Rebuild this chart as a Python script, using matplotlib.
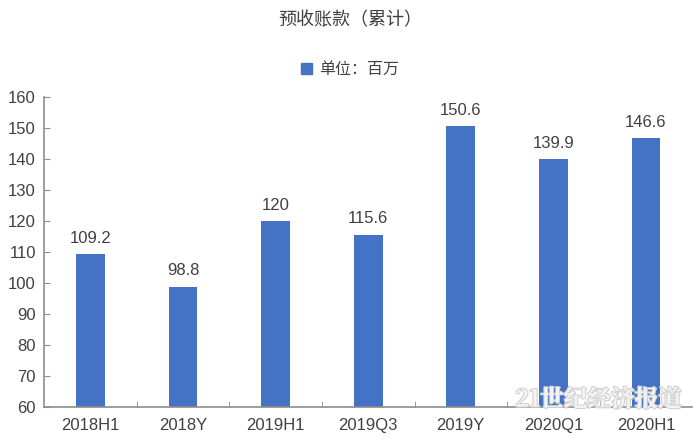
import matplotlib
matplotlib.use('Agg')
import matplotlib.pyplot as plt
from matplotlib.patches import Patch
import matplotlib.patheffects as pe

plt.rcParams['font.family'] = ['Liberation Sans', 'Noto Sans CJK SC', 'DejaVu Sans']

categories = ['2018H1', '2018Y', '2019H1', '2019Q3', '2019Y', '2020Q1', '2020H1']
values = [109.2, 98.8, 120, 115.6, 150.6, 139.9, 146.6]
labels = ['109.2', '98.8', '120', '115.6', '150.6', '139.9', '146.6']

bar_color = '#4472C4'
text_color = '#404040'
axis_color = '#8c8c8c'

fig = plt.figure(figsize=(7, 4.42), dpi=100)
ax = fig.add_axes([0.063, 0.079, 0.926, 0.702])

x = range(len(categories))
bars = ax.bar(x, values, width=0.31, color=bar_color, zorder=2)

# etiquetas de valores
for b, lab in zip(bars, labels):
    ax.annotate(lab, (b.get_x() + b.get_width() / 2, b.get_height()),
                xytext=(0, 6), textcoords='offset points',
                ha='center', va='bottom', fontsize=12, color=text_color)

ax.set_ylim(60, 160)
ax.set_yticks(range(60, 161, 10))
ax.set_xlim(-0.5, len(categories) - 0.5)
ax.set_xticks(list(x))
ax.set_xticklabels(categories)
ax.set_xticks([i + 0.5 for i in range(len(categories) - 1)], minor=True)

ax.tick_params(axis='y', direction='in', length=4, color=axis_color,
               labelsize=12, labelcolor=text_color, pad=6)
ax.tick_params(axis='x', which='major', length=0, labelsize=12,
               labelcolor=text_color, pad=8)
ax.tick_params(axis='x', which='minor', direction='in', length=4, color=axis_color)

for s in ['top', 'right']:
    ax.spines[s].set_visible(False)
for s in ['left', 'bottom']:
    ax.spines[s].set_color(axis_color)
    ax.spines[s].set_linewidth(1.2)

fig.text(0.5, 0.955, '预收账款（累计）', ha='center', va='center',
         fontsize=13, color=text_color,
         family=['Noto Sans CJK SC', 'DejaVu Sans'])
fig.legend(handles=[Patch(color=bar_color, label='单位：百万')],
           loc='center', bbox_to_anchor=(0.5, 0.842), frameon=False,
           handlelength=0.7, handleheight=0.7, handletextpad=0.4,
           labelcolor=text_color,
           prop={'family': ['Noto Sans CJK SC', 'DejaVu Sans'], 'size': 11.5})

# marca de agua
fig.text(0.855, 0.095, '21世纪经济报道', ha='center', va='center',
         fontsize=17, fontweight='bold', color='#f4f4f4',
         family=['Noto Serif CJK SC', 'Noto Sans CJK SC', 'DejaVu Sans'],
         path_effects=[pe.withStroke(linewidth=1.5, foreground='#d0d0d0')])

fig.savefig('out.png', dpi=100)
